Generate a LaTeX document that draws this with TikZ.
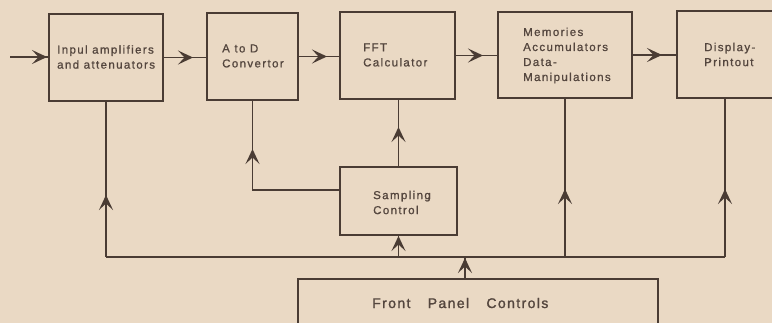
\documentclass[tikz,border=0pt]{standalone}
\usepackage{fontspec}
\setmainfont{Liberation Sans}
\newfontfamily\lblfont[LetterSpace=12,FakeBold=1]{Liberation Sans}
\newfontfamily\bigfont[LetterSpace=10,FakeBold=1.5]{Liberation Sans}
\usetikzlibrary{arrows.meta,decorations.markings,calc}
\definecolor{paper}{HTML}{EAD9C4}
\definecolor{ink}{HTML}{4A3C34}
\definecolor{txt}{HTML}{54463E}
\begin{document}
\begin{tikzpicture}[x=1pt,y=-1pt,
  box/.style={draw=ink,line width=2pt,inner sep=0pt,outer sep=0pt},
  lbl/.style={font=\lblfont\fontsize{11.5}{15}\selectfont,text=txt,align=left,anchor=west,inner sep=0pt},
  conn/.style={draw=ink,line width=1.8pt},
  markat/.style={postaction={decorate},decoration={markings,mark=at position #1 with {\arrow[ink]{Stealth[length=15pt,width=14pt,inset=6.5pt]}}}}
]
\fill[paper] (0,0) rectangle (772,323);
\clip (0,0) rectangle (772,323);
\useasboundingbox (0,0) rectangle (772,323);

% boxes
\node[box,minimum width=114pt,minimum height=87pt] (b1) at (106,57.5) {};
\node[box,minimum width=91pt,minimum height=87pt] (b2) at (252.5,56.5) {};
\node[box,minimum width=115pt,minimum height=87pt] (b3) at (397.5,55.5) {};
\node[box,minimum width=134pt,minimum height=86pt] (b4) at (565,55) {};
\node[box,minimum width=96pt,minimum height=87pt] (b5) at (725,54.5) {};
\node[box,minimum width=117pt,minimum height=68pt] (samp) at (398.5,201) {};
\node[box,minimum width=360pt,minimum height=66pt] (fpc) at (478,312) {};

% labels
\node[lbl] (t1) at (57,57) {Inpul amplifiers\\and attenuators};
\node[lbl] (t2) at (222,56) {A to D\\Convertor};
\node[lbl] (t3) at (363,55) {FFT\\Calculator};
\node[lbl] (t4) at (523,55.5) {Memories\\Accumulators\\Data-\\Manipulations};
\node[lbl] (t5) at (704,54.5) {Display-\\Printout};
\node[lbl] (t6) at (373,202.5) {Sampling\\Control};
\node[font=\bigfont\fontsize{14}{15}\selectfont,text=txt,anchor=west,inner sep=0pt] (t7) at (372,303) {Front\hspace{12pt} Panel\hspace{12pt} Controls};

% coordinates
\coordinate (in) at (10,57);
\coordinate (bus) at (0,257);
\coordinate (fp) at (465,257);

% forward chain
\draw[conn,markat=-2pt] (in) -- (in -| b1.west);
\draw[conn,markat=-14pt] (b1.east) -- (b1.east -| b2.west);
\draw[conn,markat=-13pt] (b2.east) -- (b2.east -| b3.west);
\draw[conn,markat=-15pt] (b3.east) -- (b3.east -| b4.west);
\draw[conn,markat=-15pt] (b4.east) -- (b4.east -| b5.west);

% sampling control links
\draw[conn,markat=-49pt] (samp.west |- 0,190) -| (b2.south);
\draw[conn,markat=40pt] (samp.north) -- (samp.north |- b3.south);

% bus
\draw[conn] (b1.south |- bus) -- (b5.south |- bus);
\draw[conn,markat=62pt] (b1.south |- bus) -- (b1.south);
\draw[conn,markat=-1pt] (samp.south |- bus) -- (samp.south);
\draw[conn,markat=68pt] (b4.south |- bus) -- (b4.south);
\draw[conn,markat=68pt] (b5.south |- bus) -- (b5.south);
\draw[conn,markat=-1pt] (fp |- fpc.north) -- (fp);
\end{tikzpicture}
\end{document}
